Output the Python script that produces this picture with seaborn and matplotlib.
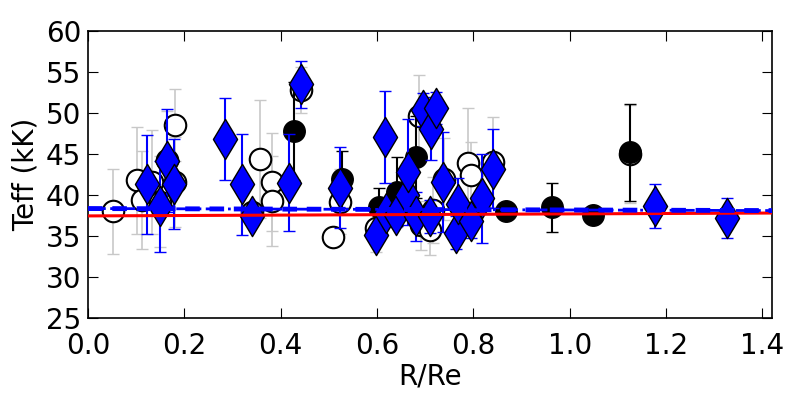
import matplotlib
matplotlib.use("Agg")
import matplotlib.pyplot as plt
import seaborn as sns
import pandas as pd

# open circles (light grey error bars)
open_x = [0.051, 0.101, 0.112, 0.133, 0.150, 0.164, 0.181, 0.181, 0.341, 0.357,
          0.383, 0.383, 0.442, 0.508, 0.524, 0.598, 0.688, 0.692, 0.709, 0.716,
          0.740, 0.789, 0.796, 0.841, 1.126]
open_y = [38.0, 41.8, 39.4, 41.6, 39.2, 44.3, 41.6, 48.5, 37.9, 44.4,
          41.6, 39.3, 52.8, 34.9, 39.2, 36.0, 49.6, 36.3, 35.7, 38.2,
          41.9, 43.9, 42.4, 44.0, 45.0]
open_err = [5.2, 6.5, 6.0, 6.3, 5.5, 6.0, 5.5, 4.4, 1.0, 7.2,
            6.0, 5.5, 2.8, 0.5, 4.0, 3.0, 5.0, 3.0, 3.0, 4.0,
            5.0, 6.7, 4.1, 5.5, 6.0]

# filled black circles
black_x = [0.428, 0.528, 0.605, 0.642, 0.681, 0.867, 0.9625, 1.049, 1.126]
black_y = [47.8, 41.9, 38.5, 40.4, 44.6, 38.0, 38.5, 37.6, 45.2]
black_err = [6.0, 3.5, 2.3, 4.2, 5.0, 0.8, 3.0, 0.5, 5.9]

# blue diamonds
dia_x = [0.122, 0.149, 0.164, 0.179, 0.285, 0.320, 0.341, 0.417, 0.442, 0.524,
         0.598, 0.617, 0.619, 0.640, 0.6625, 0.665, 0.681, 0.695, 0.709, 0.7125,
         0.723, 0.738, 0.765, 0.768, 0.796, 0.817, 0.840, 1.178, 1.326]
dia_y = [41.3, 38.6, 44.2, 41.3, 46.8, 41.3, 37.4, 41.5, 53.5, 40.9,
         35.1, 47.1, 37.8, 37.6, 40.0, 42.8, 37.4, 50.4, 37.4, 48.1,
         50.6, 41.6, 35.4, 38.9, 36.8, 39.6, 43.2, 38.7, 37.2]
dia_err = [6.0, 5.5, 6.3, 5.5, 5.0, 6.2, 1.0, 5.9, 2.9, 4.9,
           1.0, 5.6, 1.0, 1.5, 2.0, 6.5, 3.0, 2.0, 2.0, 3.8,
           2.0, 6.1, 2.0, 3.2, 2.0, 5.4, 4.8, 2.7, 2.4]

# fitted lines (end points)
fit_x = [0.0, 1.42]
red_fit = [37.45, 37.8]
blue_fit = [38.35, 38.1]

sns.set_style("ticks")
plt.rcParams["font.family"] = ["DejaVu Sans"]
plt.rcParams.update({
    "xtick.direction": "in", "ytick.direction": "in",
    "xtick.top": True, "ytick.right": True,
    "xtick.major.size": 7, "ytick.major.size": 7,
    "xtick.major.pad": 10, "ytick.major.pad": 5,
    "xtick.labelsize": 20, "ytick.labelsize": 20,
    "axes.labelsize": 20, "axes.linewidth": 1.2,
    "text.color": "black", "axes.labelcolor": "black",
    "xtick.color": "black", "ytick.color": "black",
    "axes.edgecolor": "black",
})

fig = plt.figure(figsize=(8, 4), dpi=100)
ax = fig.add_axes([0.11, 0.205, 0.855, 0.7175])

df_open = pd.DataFrame({"x": open_x, "y": open_y})
df_black = pd.DataFrame({"x": black_x, "y": black_y})
df_dia = pd.DataFrame({"x": dia_x, "y": dia_y})

ax.errorbar(open_x, open_y, yerr=open_err, fmt="none", ecolor="#c8c8c8",
            elinewidth=1.2, capsize=4, zorder=1)
sns.scatterplot(data=df_open, x="x", y="y", marker="o", s=240, facecolor="white",
                edgecolor="black", linewidth=1.5, zorder=2, ax=ax)

ax.errorbar(black_x, black_y, yerr=black_err, fmt="none", ecolor="black",
            elinewidth=1.5, capsize=4, zorder=3)
sns.scatterplot(data=df_black, x="x", y="y", marker="o", s=240, color="black",
                edgecolor="black", linewidth=1, zorder=4, ax=ax)

ax.errorbar(dia_x, dia_y, yerr=dia_err, fmt="none", ecolor="blue",
            elinewidth=1.5, capsize=4, zorder=5)
sns.scatterplot(data=df_dia, x="x", y="y", marker="d", s=420, color="blue",
                edgecolor="black", linewidth=1, zorder=6, ax=ax)

sns.lineplot(x=fit_x, y=red_fit, color="red", lw=2.2, zorder=7, ax=ax)
ax.plot(fit_x, blue_fit, color="blue", lw=3.5, ls="--", dashes=(3, 2), zorder=7)
ax.plot(fit_x, blue_fit, color="blue", lw=2, ls="-.", zorder=7)

ax.set_xlim(0, 1.42)
ax.set_ylim(25, 60)
ax.set_xticks([0.0, 0.2, 0.4, 0.6, 0.8, 1.0, 1.2, 1.4])
ax.set_yticks([25, 30, 35, 40, 45, 50, 55, 60])
ax.set_xlabel("R/Re", labelpad=2)
ax.set_ylabel("Teff (kK)")
for s in ax.spines.values():
    s.set_visible(True)

fig.savefig("out.png", dpi=100)
